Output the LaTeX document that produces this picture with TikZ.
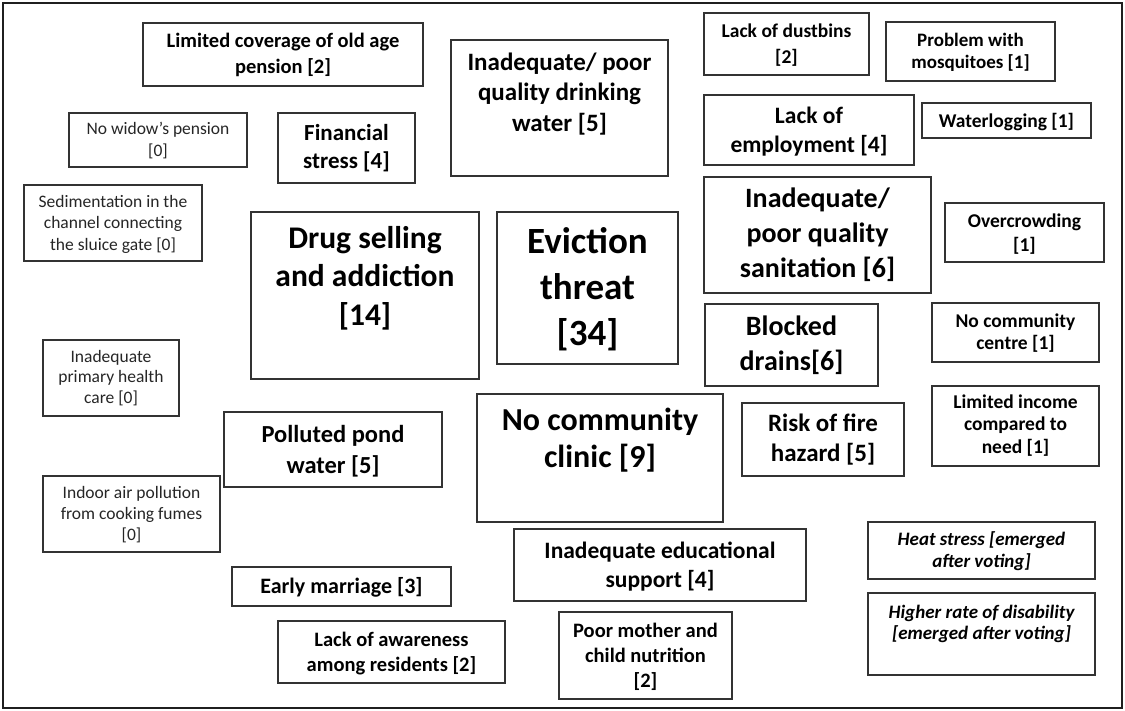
\documentclass[tikz,border=0pt]{standalone}
\usepackage{fontspec}
\setmainfont{Carlito}
\newcommand\boxstrut{\rule{0pt}{0.8em}}
% #1 name, #2-#5 box corners, #6 text style, #7 top of the text, #8 text
\newcommand\issue[8]{%
  \node[boxline, minimum width=#4pt-#2pt, minimum height=#5pt-#3pt]
    (#1) at ({(#2+#4)/2},{(#3+#5)/2}) {};
  \node[#6, anchor=north, inner sep=0pt, align=center]
    (#1-t) at ({(#2+#4)/2},#7) {\boxstrut #8};
}
\tikzset{
  boxline/.style={draw=black!80, line width=1.3pt, inner sep=0pt, fill=white},
  tbold/.style 2 args={font=\bfseries\fontsize{#1}{#2}\selectfont, text=black},
  tplain/.style 2 args={font=\fontsize{#1}{#2}\selectfont, text=black!85},
  titalic/.style 2 args={font=\bfseries\itshape\fontsize{#1}{#2}\selectfont, text=black},
}
\begin{document}
\begin{tikzpicture}[x=1pt, y=-1pt]
\useasboundingbox (0,0) rectangle (1125,711);
\fill[white] (0,0) rectangle (1125,711);
\draw[line width=2pt, black!88] (3,3) rectangle (1122,708);

\issue{limcov}{143}{23}{423}{86}{tbold={20.5}{26.5}}{30.6}{Limited coverage of old age\\pension [2]}
\issue{widow}{69}{113}{247}{167}{tplain={17.5}{22}}{120}{No widow’s pension\\{}[0]}
\issue{fin}{278}{113}{415}{183}{tbold={23}{28}}{121.6}{Financial\\stress [4]}
\issue{sed}{24}{185}{202}{261}{tplain={17.5}{21.5}}{193}{Sedimentation in the\\channel connecting\\the sluice gate [0]}
\issue{drug}{251}{212}{479}{379}{tbold={31.5}{38.5}}{222.8}{Drug selling\\and addiction\\{}[14]}
\issue{evict}{497}{212}{678}{364}{tbold={37}{46}}{223.4}{Eviction\\threat\\{}[34]}
\issue{drink}{451}{40}{668}{176}{tbold={25}{30.5}}{50}{Inadequate/ poor\\quality drinking\\water [5]}
\issue{dust}{704}{13}{869}{75}{tbold={19.5}{26}}{21.4}{Lack of dustbins\\{}[2]}
\issue{mosq}{886}{22}{1055}{81}{tbold={19}{22}}{30.8}{Problem with\\mosquitoes [1]}
\issue{emp}{704}{95}{914}{165}{tbold={23.5}{29}}{104.2}{Lack of\\employment [4]}
\issue{water}{922}{103}{1091}{138}{tbold={19.5}{24}}{111.4}{Waterlogging [1]}
\issue{sanit}{704}{177}{931}{293}{tbold={28}{35}}{184.6}{Inadequate/\\poor quality\\sanitation [6]}
\issue{overc}{945}{203}{1104}{262}{tbold={19.5}{24}}{211.4}{Overcrowding\\{}[1]}
\issue{blocked}{705}{304}{878}{386}{tbold={28}{35}}{312.6}{Blocked\\drains[6]}
\issue{centre}{932}{303}{1099}{362}{tbold={19.5}{22}}{311.4}{No community\\centre [1]}
\issue{clinic}{477}{394}{723}{522}{tbold={32}{37}}{404.4}{No community\\clinic [9]}
\issue{fire}{742}{403}{904}{476}{tbold={25}{30}}{411}{Risk of fire\\hazard [5]}
\issue{income}{932}{386}{1099}{466}{tbold={19.5}{22.5}}{392.4}{Limited income\\compared to\\need [1]}
\issue{heat}{868}{522}{1095}{579}{titalic={19}{22}}{529.8}{Heat stress [emerged\\after voting]}
\issue{disab}{868}{593}{1095}{675}{titalic={19}{21.5}}{602.8}{Higher rate of disability\\{}[emerged after voting]}
\issue{educ}{514}{529}{806}{601}{tbold={23.5}{29}}{539.2}{Inadequate educational\\support [4]}
\issue{nutr}{559}{612}{732}{699}{tbold={20.5}{25}}{620.6}{Poor mother and\\child nutrition\\{}[2]}
\issue{pond}{224}{412}{442}{487}{tbold={24.5}{31}}{422.4}{Polluted pond\\water [5]}
\issue{marriage}{232}{567}{451}{606}{tbold={22}{26}}{575.4}{Early marriage [3]}
\issue{aware}{278}{621}{505}{683}{tbold={20.5}{25}}{629.6}{Lack of awareness\\among residents [2]}
\issue{primary}{43}{340}{179}{416}{tplain={17.5}{20.5}}{348}{Inadequate\\primary health\\care [0]}
\issue{indoor}{43}{476}{220}{552}{tplain={17.5}{21}}{484}{Indoor air pollution\\from cooking fumes\\{}[0]}
\end{tikzpicture}
\end{document}
